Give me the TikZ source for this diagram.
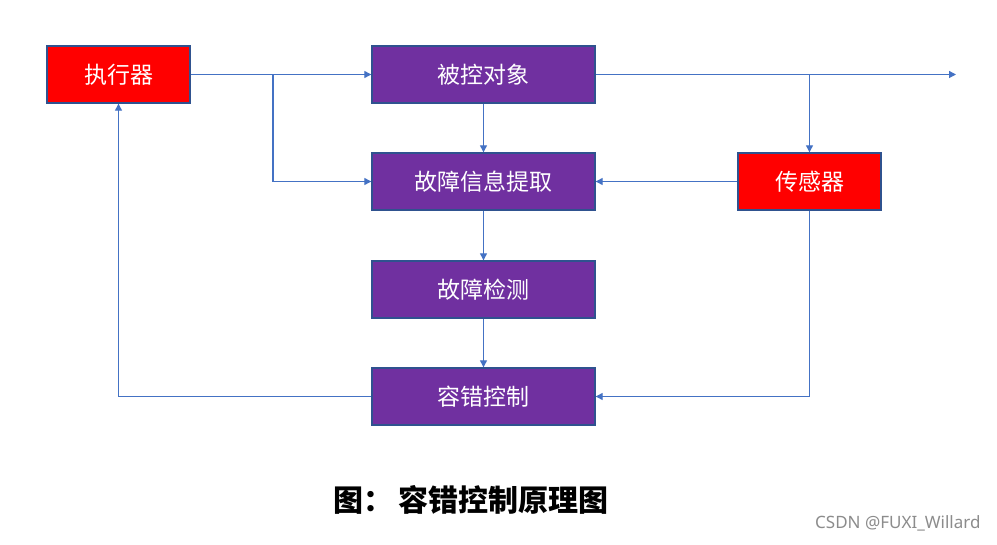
\documentclass[tikz,border=0pt]{standalone}
\usepackage{fontspec}
\usepackage{tikz}
\usepackage{xcolor}
\usetikzlibrary{arrows.meta}
\newfontfamily\cjk{Noto Sans CJK SC}
\newfontfamily\marksans{Noto Sans}
\definecolor{boxpurple}{HTML}{7030A0}
\definecolor{boxred}{HTML}{FF0000}
\definecolor{boxedge}{HTML}{2F528F}
\definecolor{linkblue}{HTML}{4472C4}
\tikzset{
    edge_arrow/.style={-{Triangle[width=7pt,length=7pt]}, line width=1.2pt, draw=linkblue},
    base_box/.style={rectangle, draw=boxedge, line width=1.4pt, text=white, font=\cjk\fontsize{23}{27}\selectfont, inner sep=0pt, minimum height=57pt},
    red_box/.style={base_box, fill=boxred, minimum width=143pt},
    purple_box/.style={base_box, fill=boxpurple, minimum width=223pt}
}
\begin{document}
\begin{tikzpicture}[x=1pt, y=-1pt]
\useasboundingbox[fill=white] (0,0) rectangle (997,545);

\node[red_box]    (exec)    at (118.5, 74.5)  {执行器};
\node[purple_box] (plant)   at (483.5, 74.5)  {被控对象};
\node[purple_box] (extract) at (483.5, 181.5) {故障信息提取};
\node[red_box]    (sensor)  at (809.5, 181.5) {传感器};
\node[purple_box] (detect)  at (483.5, 289.5) {故障检测};
\node[purple_box] (ftc)     at (483.5, 396.5) {容错控制};

\coordinate (split_in)  at (273, 74.5);
\coordinate (split_out) at (809.5, 74.5);
\coordinate (output)    at (956, 74.5);

\draw[edge_arrow] (exec) -- (plant);
\draw[edge_arrow] (split_in) |- (extract.west);
\draw[edge_arrow] (plant) -- (output);
\draw[edge_arrow] (split_out) -- (sensor);
\draw[edge_arrow] (plant) -- (extract);
\draw[edge_arrow] (sensor) -- (extract);
\draw[edge_arrow] (extract) -- (detect);
\draw[edge_arrow] (detect) -- (ftc);
\draw[edge_arrow] (sensor.south) |- (ftc.east);
\draw[edge_arrow] (ftc.west) -| (exec.south);

\node[font=\cjk\bfseries\fontsize{30}{34}\selectfont, text=black] (caption) at (471, 500) {图：\,容错控制原理图};
\node[font=\marksans\fontsize{17}{20}\selectfont, text=black!45, anchor=east] (mark) at (984, 523) {CSDN @FUXI\_Willard};

\end{tikzpicture}
\end{document}
